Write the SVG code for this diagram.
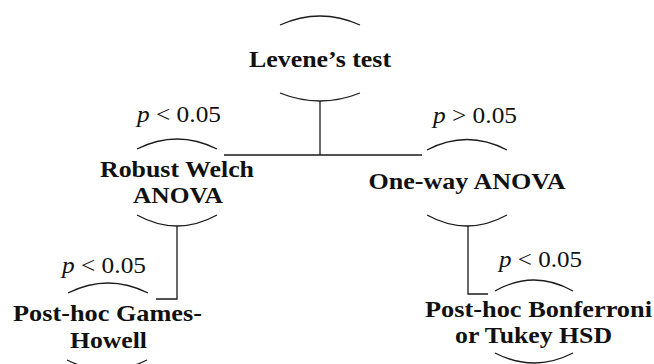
<svg xmlns="http://www.w3.org/2000/svg" width="654" height="364" viewBox="0 0 654 364">
  <defs>
    <style>
      .arc { fill: none; stroke: #1a1a1a; stroke-width: 1.3; }
      .link { fill: none; stroke: #1a1a1a; stroke-width: 1.3; }
      .txt { font-family: 'Liberation Serif', 'DejaVu Serif', serif; fill: #111; text-anchor: middle; }
      .b { font-weight: bold; font-size: 24px; }
      .c { font-size: 23px; }
    </style>
  </defs>
  <rect width="654" height="364" fill="#ffffff"/>

  <!-- connectors -->
  <g id="connectors">
    <path class="link" d="M320 101 V155 M224 155 H422"/>
    <path class="link" d="M177 226 V299 H156"/>
    <path class="link" d="M468 226 V294 H488"/>
  </g>

  <!-- root test -->
  <g id="levene" class="txt">
    <path class="arc" d="M280 25 Q320 7 360 25"/>
    <path class="arc" d="M280 93 Q320 109 360 93"/>
    <text class="b" x="320" y="67" textLength="142" lengthAdjust="spacingAndGlyphs">Levene’s test</text>
  </g>

  <!-- unequal variances branch -->
  <g id="welch" class="txt">
    <text class="c" x="179" y="122" textLength="84" lengthAdjust="spacingAndGlyphs"><tspan font-style="italic">p</tspan> &lt; 0.05</text>
    <path class="arc" d="M137 149 Q177 129 217 149"/>
    <path class="arc" d="M137 215 Q177 237 217 215"/>
    <text class="b" x="177" y="177" textLength="154" lengthAdjust="spacingAndGlyphs">Robust Welch</text>
    <text class="b" x="178" y="203" textLength="90" lengthAdjust="spacingAndGlyphs">ANOVA</text>
  </g>

  <!-- equal variances branch -->
  <g id="oneway" class="txt">
    <text class="c" x="475" y="123" textLength="84" lengthAdjust="spacingAndGlyphs"><tspan font-style="italic">p</tspan> &gt; 0.05</text>
    <path class="arc" d="M427 150 Q467 129 507 150"/>
    <path class="arc" d="M427 215 Q467 237 507 215"/>
    <text class="b" x="467" y="189" textLength="197" lengthAdjust="spacingAndGlyphs">One-way ANOVA</text>
  </g>

  <!-- post-hoc after Welch -->
  <g id="games-howell" class="txt">
    <text class="c" x="104" y="273" textLength="84" lengthAdjust="spacingAndGlyphs"><tspan font-style="italic">p</tspan> &lt; 0.05</text>
    <path class="arc" d="M68 293 Q108 273 148 293"/>
    <path class="arc" d="M67 360 Q107 380 147 360"/>
    <text class="b" x="107.5" y="321" textLength="189" lengthAdjust="spacingAndGlyphs">Post-hoc Games-</text>
    <text class="b" x="108.5" y="348" textLength="77" lengthAdjust="spacingAndGlyphs">Howell</text>
  </g>

  <!-- post-hoc after one-way ANOVA -->
  <g id="bonferroni-tukey" class="txt">
    <text class="c" x="540.5" y="267" textLength="83" lengthAdjust="spacingAndGlyphs"><tspan font-style="italic">p</tspan> &lt; 0.05</text>
    <path class="arc" d="M495 291 Q534 269 573 291"/>
    <path class="arc" d="M495 353 Q534 373 573 353"/>
    <text class="b" x="538.5" y="317" textLength="227" lengthAdjust="spacingAndGlyphs">Post-hoc Bonferroni</text>
    <text class="b" x="533.5" y="343" textLength="157" lengthAdjust="spacingAndGlyphs">or Tukey HSD</text>
  </g>
</svg>
